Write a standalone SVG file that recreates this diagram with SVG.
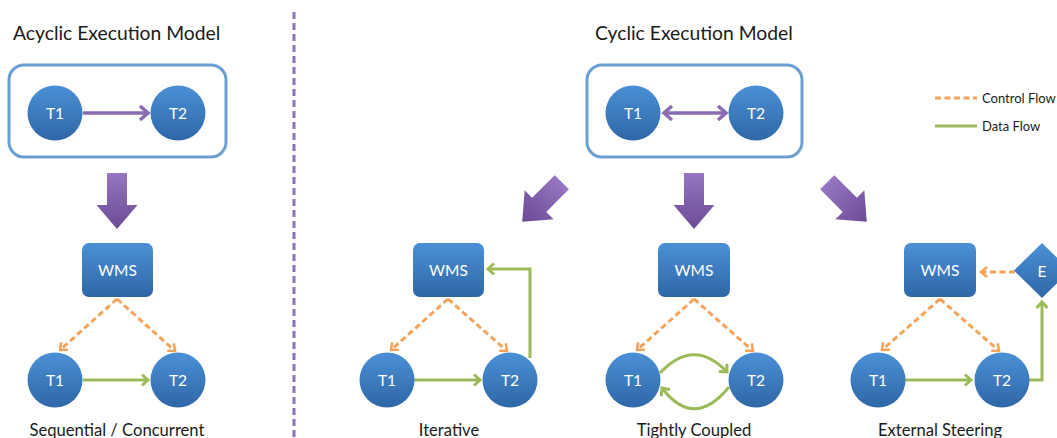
<svg xmlns="http://www.w3.org/2000/svg" width="1057" height="438" viewBox="0 0 1057 438">
<defs>
<linearGradient id="gBlue" x1="0" y1="0" x2="0" y2="1">
<stop offset="0" stop-color="#4a90d6"/>
<stop offset="1" stop-color="#2f67a6"/>
</linearGradient>
<linearGradient id="gPurple" x1="0" y1="0" x2="0" y2="1">
<stop offset="0" stop-color="#9676c2"/>
<stop offset="1" stop-color="#6c4a94"/>
</linearGradient>
<path id="blk" d="M-10,-28 L10,-28 L10,4 L20.5,4 L0,28 L-20.5,4 L-10,4 Z"/>
<marker id="mP" markerUnits="userSpaceOnUse" markerWidth="20" markerHeight="20" refX="10" refY="10" orient="auto-start-reverse" viewBox="0 0 20 20">
<path d="M2,3 L10,10 L2,17" fill="none" stroke="#8a6cb0" stroke-width="3.5"/>
</marker>
<marker id="mO" markerUnits="userSpaceOnUse" markerWidth="16" markerHeight="16" refX="8" refY="8" orient="auto" viewBox="0 0 16 16">
<path d="M2,3 L8,8 L2,13" fill="none" stroke="#f5a25a" stroke-width="2.5"/>
</marker>
<marker id="mG" markerUnits="userSpaceOnUse" markerWidth="16" markerHeight="16" refX="8" refY="8" orient="auto" viewBox="0 0 16 16">
<path d="M2,2.5 L8,8 L2,13.5" fill="none" stroke="#9bbb59" stroke-width="3"/>
</marker>
</defs>
<style>
.t{font-family:Lato,"Open Sans","Liberation Sans",sans-serif;fill:#1a1a1a}
.title{font-size:19.3px}
.cap{font-size:16.6px}
.leg{font-size:13px}
.nl{font-family:Lato,"Open Sans","Liberation Sans",sans-serif;font-size:15.5px;fill:#ffffff;text-anchor:middle}
.node{fill:url(#gBlue)}
.frame{fill:#ffffff;stroke:#6a9fd2;stroke-width:3}
.big{fill:url(#gPurple)}
.ctl{fill:none;stroke:#f5a25a;stroke-width:3;stroke-dasharray:6 3.5}
.dat{fill:none;stroke:#9bbb59;stroke-width:3}
.pur{fill:none;stroke:#8a6cb0;stroke-width:3.5}
</style>

<line x1="294" y1="12" x2="294" y2="438" stroke="#8a72b2" stroke-width="3" stroke-dasharray="7 4"/>

<text class="t title" x="13" y="40">Acyclic Execution Model</text>
<text class="t title" x="595" y="40">Cyclic Execution Model</text>

<g id="frame-acyclic"><rect class="frame" x="9" y="65" width="217" height="92" rx="15"/></g>
<g id="frame-cyclic"><rect class="frame" x="587" y="65" width="215" height="92" rx="15"/></g>

<g id="legend">
<line class="ctl" x1="935" y1="98" x2="977" y2="98"/>
<text class="t leg" x="982" y="103">Control Flow</text>
<line class="dat" x1="935" y1="126" x2="977" y2="126"/>
<text class="t leg" x="982" y="131">Data Flow</text>
</g>

<g id="block-arrows">
<use href="#blk" class="big" transform="translate(117,201)"/>
<use href="#blk" class="big" transform="translate(694,201)"/>
<use href="#blk" class="big" transform="translate(542,202) rotate(45)"/>
<use href="#blk" class="big" transform="translate(847,202) rotate(-45)"/>
</g>

<g id="connectors">
<line class="pur" x1="83" y1="113" x2="148" y2="113" marker-end="url(#mP)"/>
<line class="pur" x1="664" y1="113" x2="726" y2="113" marker-start="url(#mP)" marker-end="url(#mP)"/>

<line class="ctl" x1="117" y1="299" x2="60" y2="350" marker-end="url(#mO)"/>
<line class="ctl" x1="117" y1="299" x2="175" y2="351" marker-end="url(#mO)"/>
<line class="dat" x1="83" y1="380" x2="148" y2="380" marker-end="url(#mG)"/>

<line class="ctl" x1="448" y1="299" x2="391" y2="350" marker-end="url(#mO)"/>
<line class="ctl" x1="448" y1="299" x2="507" y2="351" marker-end="url(#mO)"/>
<line class="dat" x1="414" y1="380" x2="480" y2="380" marker-end="url(#mG)"/>
<path class="dat" d="M530,358 L530,269 L488,269" marker-end="url(#mG)"/>

<line class="ctl" x1="694" y1="299" x2="637" y2="350" marker-end="url(#mO)"/>
<line class="ctl" x1="694" y1="299" x2="753" y2="351" marker-end="url(#mO)"/>
<path class="dat" d="M660,373 Q694,337 727,372" marker-end="url(#mG)"/>
<path class="dat" d="M729,387 Q694,430 662,388" marker-end="url(#mG)"/>

<line class="ctl" x1="940" y1="299" x2="882" y2="350" marker-end="url(#mO)"/>
<line class="ctl" x1="940" y1="299" x2="999" y2="351" marker-end="url(#mO)"/>
<line class="ctl" x1="1015" y1="272" x2="981" y2="272" marker-end="url(#mO)"/>
<line class="dat" x1="905" y1="380" x2="971" y2="380" marker-end="url(#mG)"/>
<path class="dat" d="M1029,380 L1042,380 L1042,302" marker-end="url(#mG)"/>
</g>

<g id="acyc-top-T1"><circle class="node" cx="55" cy="113" r="27.5"/><text class="nl" x="55" y="119">T1</text></g>
<g id="acyc-top-T2"><circle class="node" cx="178" cy="113" r="27.5"/><text class="nl" x="178" y="119">T2</text></g>
<g id="cyc-top-T1"><circle class="node" cx="633" cy="113" r="27.5"/><text class="nl" x="633" y="119">T1</text></g>
<g id="cyc-top-T2"><circle class="node" cx="756" cy="113" r="27.5"/><text class="nl" x="756" y="119">T2</text></g>

<g id="seq-WMS"><rect class="node" x="82" y="243" width="71" height="54" rx="7"/><text class="nl" x="117.5" y="276">WMS</text></g>
<g id="seq-T1"><circle class="node" cx="55" cy="380" r="27.5"/><text class="nl" x="55" y="386">T1</text></g>
<g id="seq-T2"><circle class="node" cx="178" cy="380" r="27.5"/><text class="nl" x="178" y="386">T2</text></g>

<g id="it-WMS"><rect class="node" x="413" y="243" width="71" height="54" rx="7"/><text class="nl" x="448.5" y="276">WMS</text></g>
<g id="it-T1"><circle class="node" cx="387" cy="380" r="27.5"/><text class="nl" x="387" y="386">T1</text></g>
<g id="it-T2"><circle class="node" cx="510" cy="380" r="27.5"/><text class="nl" x="510" y="386">T2</text></g>

<g id="tc-WMS"><rect class="node" x="658" y="243" width="72" height="54" rx="7"/><text class="nl" x="694" y="276">WMS</text></g>
<g id="tc-T1"><circle class="node" cx="633" cy="380" r="27.5"/><text class="nl" x="633" y="386">T1</text></g>
<g id="tc-T2"><circle class="node" cx="756" cy="380" r="27.5"/><text class="nl" x="756" y="386">T2</text></g>

<g id="es-WMS"><rect class="node" x="904" y="243" width="72" height="54" rx="7"/><text class="nl" x="940" y="276">WMS</text></g>
<g id="es-E"><path class="node" d="M1042,243 L1070,270.5 L1042,298 L1014,270.5 Z"/><text class="nl" x="1042" y="277">E</text></g>
<g id="es-T1"><circle class="node" cx="878" cy="380" r="27.5"/><text class="nl" x="878" y="386">T1</text></g>
<g id="es-T2"><circle class="node" cx="1002" cy="380" r="27.5"/><text class="nl" x="1002" y="386">T2</text></g>

<text class="t cap" x="117" y="436" text-anchor="middle">Sequential / Concurrent</text>
<text class="t cap" x="449" y="436" text-anchor="middle">Iterative</text>
<text class="t cap" x="694" y="436" text-anchor="middle">Tightly Coupled</text>
<text class="t cap" x="940" y="436" text-anchor="middle">External Steering</text>
</svg>
